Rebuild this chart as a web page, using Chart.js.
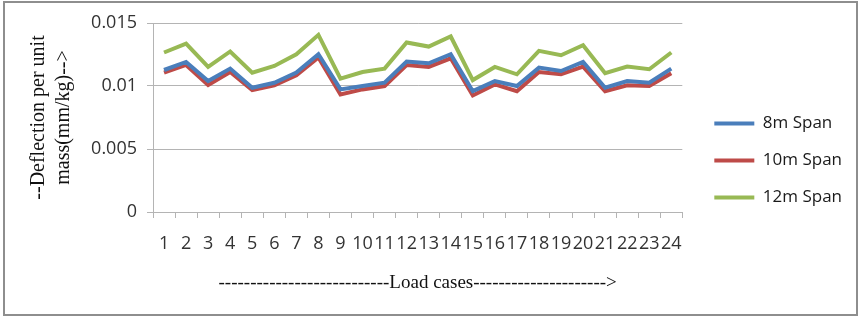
<!DOCTYPE html>
<html>
<head>
<meta charset="utf-8">
<script src="https://cdn.jsdelivr.net/npm/chart.js@4/dist/chart.umd.min.js"></script>
<style>
  html, body { margin: 0; padding: 0; background: #fff; }
  #wrap { width: 866px; height: 318px; }
</style>
</head>
<body>
<div id="wrap"><canvas id="deflectionChart" width="866" height="318"></canvas></div>
<script>
const loadCases = ["1","2","3","4","5","6","7","8","9","10","11","12","13","14","15","16","17","18","19","20","21","22","23","24"];

const span8 = [0.01127, 0.01191, 0.01039, 0.01138, 0.00986, 0.01026, 0.01106, 0.01252, 0.00973, 0.01000, 0.01026, 0.01194,
               0.01180, 0.01252, 0.00959, 0.01039, 0.01000, 0.01146, 0.01119, 0.01191, 0.00986, 0.01039, 0.01026, 0.01138];
const span10 = [0.01106, 0.01167, 0.01007, 0.01111, 0.00967, 0.01005, 0.01085, 0.01226, 0.00933, 0.00973, 0.01000, 0.01167,
                0.01151, 0.01220, 0.00925, 0.01013, 0.00959, 0.01111, 0.01093, 0.01154, 0.00959, 0.01005, 0.01000, 0.01101];
const span12 = [0.01266, 0.01337, 0.01151, 0.01274, 0.01106, 0.01159, 0.01252, 0.01406, 0.01058, 0.01111, 0.01138, 0.01345,
                0.01313, 0.01393, 0.01047, 0.01151, 0.01093, 0.01279, 0.01244, 0.01324, 0.01101, 0.01154, 0.01133, 0.01266];

const yTicks = [0, 0.005, 0.01, 0.015];

// outer frame like the pasted Excel chart, and a small gap before the legend
const framePlugin = {
  id: "frame",
  afterLayout(chart) {
    chart.legend.left += 12;
    chart.legend.right += 12;
  },
  afterDraw(chart) {
    const ctx = chart.ctx;
    ctx.save();
    ctx.strokeStyle = "#8e8e8e";
    ctx.lineWidth = 2;
    ctx.strokeRect(4, 2, 853, 313);
    ctx.restore();
  }
};

const ctx = document.getElementById("deflectionChart").getContext("2d");

new Chart(ctx, {
  type: "line",
  data: {
    labels: loadCases,
    datasets: [
      { label: "8m Span", data: span8, borderColor: "#4a7ebb", backgroundColor: "#4a7ebb" },
      { label: "10m Span", data: span10, borderColor: "#be4b48", backgroundColor: "#be4b48" },
      { label: "12m Span", data: span12, borderColor: "#98b954", backgroundColor: "#98b954" }
    ]
  },
  options: {
    responsive: false,
    animation: false,
    devicePixelRatio: 1,
    layout: { padding: { left: 22, top: 23, right: 26, bottom: 20 } },
    elements: {
      line: { borderWidth: 4, tension: 0 },
      point: { radius: 0, hoverRadius: 0 }
    },
    plugins: {
      tooltip: { enabled: false },
      legend: {
        position: "right",
        labels: {
          boxWidth: 40,
          boxHeight: 4,
          padding: 20,
          color: "#1a1a1a",
          font: { family: "'Open Sans'", size: 17 },
          generateLabels(chart) {
            // thin bar swatches, no outline
            return Chart.defaults.plugins.legend.labels.generateLabels(chart)
              .map(item => Object.assign(item, { lineWidth: 0 }));
          }
        }
      }
    },
    scales: {
      x: {
        offset: true,
        grid: { offset: true, drawOnChartArea: false, color: "#b4b4b4", tickLength: 6 },
        border: { color: "#b4b4b4" },
        ticks: {
          autoSkip: false,
          maxRotation: 0,
          padding: 15,
          color: "#333",
          font: { family: "'Open Sans'", size: 18 }
        },
        title: {
          display: true,
          text: "---------------------------Load cases--------------------->",
          color: "#111",
          font: { family: "'Liberation Serif'", size: 19 }
        },
        afterFit(scale) { scale.height = 86; }
      },
      y: {
        min: 0,
        max: 0.015,
        afterBuildTicks(scale) { scale.ticks = yTicks.map(v => ({ value: v })); },
        grid: { color: "#b4b4b4", tickLength: 6 },
        border: { color: "#b4b4b4" },
        ticks: {
          padding: 10,
          color: "#333",
          font: { family: "'Open Sans'", size: 18 },
          callback: v => String(v)
        },
        title: {
          display: true,
          text: ["--Deflection per unit", "mass(mm/kg)-->"],
          color: "#111",
          font: { family: "'Liberation Serif'", size: 20, lineHeight: 1.25 }
        },
        afterFit(scale) { scale.width = 131; }
      }
    }
  },
  plugins: [framePlugin]
});
</script>
</body>
</html>
